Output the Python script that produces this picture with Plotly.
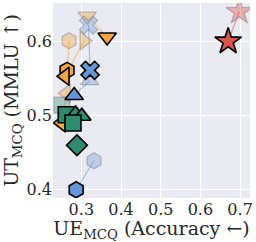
import plotly.graph_objects as go

# ---- data (before -> after pairs) ----
groups = ["red", "orange", "orange", "orange", "orange", "blue", "blue", "blue",
          "green", "green", "green", "green", "green"]
sym_before = ["star", "triangle-down", "hexagon", "triangle-right", "triangle-left",
              "x", "triangle-up", "hexagon",
              "square", "triangle-up", "triangle-up", "square", "diamond"]
sym_after = ["star", "triangle-down", "hexagon", "triangle-left", "triangle-left",
             "x", "triangle-up", "hexagon",
             "square", "triangle-up", "triangle-up", "square", "diamond"]
x_before = [0.698, 0.315, 0.269, 0.307, 0.262, 0.318, 0.321, 0.332,
            0.251, 0.287, 0.302, 0.278, 0.289]
y_before = [0.640, 0.634, 0.601, 0.601, 0.530, 0.622, 0.547, 0.439,
            0.514, 0.503, 0.500, 0.491, 0.460]
x_after = [0.670, 0.365, 0.264, 0.259, 0.250, 0.322, 0.282, 0.287,
           0.262, 0.285, 0.301, 0.279, 0.289]
y_after = [0.600, 0.606, 0.561, 0.553, 0.490, 0.561, 0.527, 0.400,
           0.501, 0.502, 0.499, 0.490, 0.460]

x_ticks = [0.3, 0.4, 0.5, 0.6, 0.7]
y_ticks = [0.4, 0.5, 0.6]

colors = {"red": "#D9534F", "orange": "#F2A641", "blue": "#6497D6", "green": "#2E8B6E"}
faded = {"red": "rgba(217,83,79,0.40)", "orange": "rgba(242,166,65,0.40)",
         "blue": "rgba(100,151,214,0.35)", "green": "rgba(46,139,110,0.35)"}
line_faded = {"red": "rgba(217,83,79,0.55)", "orange": "rgba(242,166,65,0.55)",
              "blue": "rgba(100,151,214,0.55)", "green": "rgba(46,139,110,0.55)"}

fig = go.Figure()

# connecting lines
for i, g in enumerate(groups):
    fig.add_trace(go.Scatter(x=[x_before[i], x_after[i]], y=[y_before[i], y_after[i]],
                             mode="lines", line=dict(color=line_faded[g], width=1.2),
                             hoverinfo="skip", showlegend=False))

# faded (before) markers
for i, g in enumerate(groups):
    size = 20 if sym_before[i] == "star" else 16
    fig.add_trace(go.Scatter(x=[x_before[i]], y=[y_before[i]], mode="markers",
                             marker=dict(symbol=sym_before[i], size=size, color=faded[g],
                                         line=dict(color="rgba(120,120,120,0.45)", width=1.2)),
                             showlegend=False))

# bold (after) markers
for i, g in enumerate(groups):
    size = 20 if sym_after[i] == "star" else 16
    fig.add_trace(go.Scatter(x=[x_after[i]], y=[y_after[i]], mode="markers",
                             marker=dict(symbol=sym_after[i], size=size, color=colors[g],
                                         line=dict(color="black", width=1.6)),
                             showlegend=False))

font_family = "DejaVu Serif"
fig.update_layout(
    width=256, height=242,
    margin=dict(l=53, r=6, t=3, b=44, autoexpand=False),
    paper_bgcolor="white", plot_bgcolor="#EAEAF2",
    font=dict(family=font_family, size=16, color="#262626"),
    showlegend=False,
)
fig.update_xaxes(range=[0.2286, 0.725], tickvals=x_ticks, tickformat=".1f",
                 showgrid=True, gridcolor="white", gridwidth=1, zeroline=False,
                 ticks="", tickfont=dict(size=16),
                 title=dict(text="UE<sub>MCQ</sub> (Accuracy ←)", font=dict(size=19), standoff=3))
fig.update_yaxes(range=[0.3888, 0.6518], tickvals=y_ticks, tickformat=".1f",
                 showgrid=True, gridcolor="white", gridwidth=1, zeroline=False,
                 ticks="", tickfont=dict(size=16),
                 title=dict(text="UT<sub>MCQ</sub> (MMLU ↑)", font=dict(size=19), standoff=4))

fig.write_html("out.html", config={"displayModeBar": False},
               post_script="document.body.style.margin='0';document.body.style.overflow='hidden';")
